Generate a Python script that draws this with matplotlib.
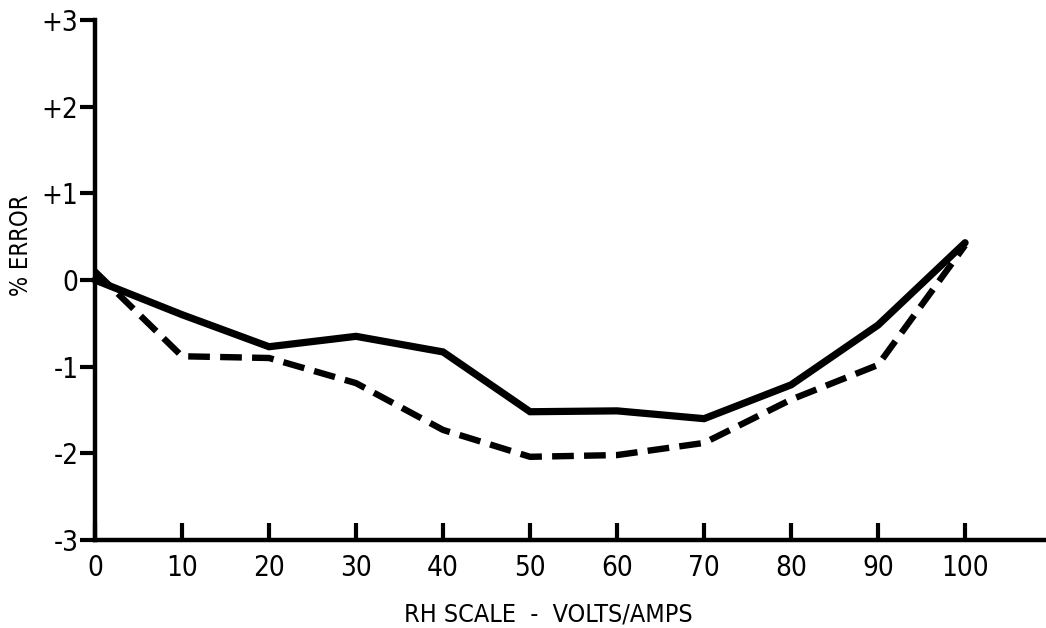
import matplotlib
matplotlib.use("Agg")
import matplotlib.pyplot as plt

# RH scale readings and percent error for the two test runs
rh_scale = [0, 10, 20, 30, 40, 50, 60, 70, 80, 90, 100]
error_solid = [0.0, -0.40, -0.77, -0.65, -0.83, -1.52, -1.51, -1.60, -1.21, -0.52, 0.43]
error_dashed = [0.10, -0.88, -0.90, -1.19, -1.73, -2.04, -2.02, -1.88, -1.38, -0.98, 0.40]

y_ticks = [-3, -2, -1, 0, 1, 2, 3]
y_tick_labels = ["-3", "-2", "-1", "0", "+1", "+2", "+3"]
x_ticks = [0, 10, 20, 30, 40, 50, 60, 70, 80, 90, 100]

plt.rcParams["font.family"] = ["DejaVu Sans"]
plt.rcParams["font.stretch"] = "condensed"

fig = plt.figure(figsize=(10.46, 6.28), dpi=100)
ax = fig.add_axes([95 / 1046, 1 - 540 / 628, (1046 - 95) / 1046, (540 - 20) / 628])

ax.plot(rh_scale, error_solid, color="black", lw=5.2, solid_joinstyle="miter",
        solid_capstyle="round", clip_on=False)
ax.plot(rh_scale, error_dashed, color="black", lw=4.6, dashes=(3.4, 1.6),
        dash_capstyle="butt", clip_on=False)

ax.set_xlim(0, 109.3)
ax.set_ylim(-3, 3)

for side in ("top", "right"):
    ax.spines[side].set_visible(False)
for side in ("left", "bottom"):
    ax.spines[side].set_linewidth(3.2)

ax.set_yticks(y_ticks)
ax.set_yticklabels(y_tick_labels)
ax.set_xticks(x_ticks)
ax.set_xticklabels([str(v) for v in x_ticks])

ax.tick_params(axis="y", direction="out", length=11, width=3, pad=1,
               labelsize=20)
ax.tick_params(axis="x", direction="in", length=12, width=3, pad=10,
               labelsize=20)

ax.set_xlabel("RH SCALE  -  VOLTS/AMPS", fontsize=18)
ax.xaxis.set_label_coords((548 - 95) / (1046 - 95), -(603 - 540) / 520)
ax.set_ylabel("% ERROR", fontsize=17)
ax.yaxis.set_label_coords(-(95 - 33) / 951, (540 - 245) / 520)

fig.savefig("out.png", dpi=100)
